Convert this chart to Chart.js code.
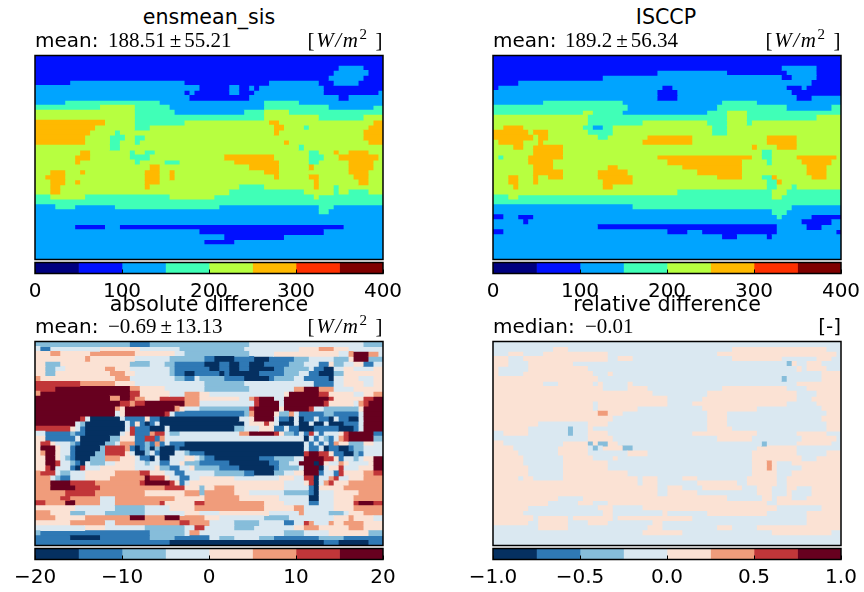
<!DOCTYPE html>
<html>
<head>
<meta charset="utf-8">
<script src="https://cdn.jsdelivr.net/npm/chart.js@4"></script>
<style>
body { margin: 0; background: #fff; }
#page { position: relative; width: 864px; height: 592px; overflow: hidden; }
canvas { position: absolute; }
.t { position: absolute; font: 20px/24px "DejaVu Sans", sans-serif; color: #000; white-space: nowrap; }
.c { transform: translateX(-50%); font-size: 20.6px; }
.m { font-family: "Liberation Serif", serif; font-size: 21px; }
.m i { font-style: italic; }
.m sup { font-size: 15px; line-height: 0; }
.u { letter-spacing: 1.6px; }
.pm { margin: 0 3px 0 4px; }
</style>
</head>
<body>
<div id="page">
  <canvas id="map0" width="360" height="212" style="left:30px;top:51px"></canvas>
  <canvas id="bar0" width="432" height="42" style="left:0;top:260px"></canvas>
  <canvas id="map1" width="360" height="212" style="left:488px;top:51px"></canvas>
  <canvas id="bar1" width="432" height="42" style="left:432px;top:260px"></canvas>
  <canvas id="map2" width="360" height="212" style="left:30px;top:337px"></canvas>
  <canvas id="bar2" width="432" height="42" style="left:0;top:546px"></canvas>
  <canvas id="map3" width="360" height="212" style="left:488px;top:337px"></canvas>
  <canvas id="bar3" width="432" height="42" style="left:432px;top:546px"></canvas>

  <span class="t c" style="left:209px;top:5px">ensmean_sis</span>
  <span class="t" style="left:35px;top:28px">mean:</span>
  <span class="t m" style="left:108px;top:28px">188.51<span class="pm">±</span>55.21</span>
  <span class="t m u" style="right:480px;top:28px">[<i>W/m</i><sup>2</sup> ]</span>

  <span class="t c" style="left:666px;top:5px">ISCCP</span>
  <span class="t" style="left:493px;top:28px">mean:</span>
  <span class="t m" style="left:565px;top:28px">189.2<span class="pm">±</span>56.34</span>
  <span class="t m u" style="right:22px;top:28px">[<i>W/m</i><sup>2</sup> ]</span>

  <span class="t c" style="left:209px;top:292px">absolute difference</span>
  <span class="t" style="left:35px;top:314px">mean:</span>
  <span class="t m" style="left:108px;top:314px">−0.69<span class="pm">±</span>13.13</span>
  <span class="t m u" style="right:480px;top:314px">[<i>W/m</i><sup>2</sup> ]</span>

  <span class="t c" style="left:667px;top:292px">relative difference</span>
  <span class="t" style="left:493px;top:314px">median:</span>
  <span class="t m" style="left:585px;top:314px">−0.01</span>
  <span class="t" style="right:23px;top:314px">[-]</span>
</div>

<script>
// each row is a run list: band letter (a = lowest band) + number of cells
const ensmeanRows = [
  "b70","b70","b61c5b4","b60c7b3","b59c7b4","b7c23b17c10b3c5b5",
  "c33b6c2b2c1b1c13b12","c30b1c1b7c2b3c14b11c1","c31b12c18b2c7","c6d19c21d7c17",
  "d13e7d7c19d13c9d2","e20d8c14d4e5d19","e20d26e11d9e4","f14e6d10e17f2e19f2",
  "f12e8d3e25f2e4d1e12f3","f11e5d1e31f1e17f4","f10e5d3e2d2e44f4","f10e5d2e3d1e29f1e16f3",
  "e15d2e36d1e16","e9f2e8d1e2d2e31d2e3f1e2f4e3","e8f3e8d4e15f10e7d3e3f8e1",
  "e8f1e11d1e5d3e11f9e6d2e6f5e2","e23f2e18f6e6f1e7f5e2",
  "e3f3e3f1e12f3e2f1e18f3e14f4e3","e2f4e16f3e2f1e20f1e6f2e7f3e3",
  "e3f3e2f1e13f3e31f1e8f2e3","e3f2e17f1e18d5e10f1e3d1e9","e3f2e34d15e6d1e2d4e3",
  "d3e7d17e9d20e1d13","d70","c4d4c8d21c20d3c10","c57d2c11","c70","c70",
  "c8b6c3b45c8","c33b25c12","c38b12c20","c34b6c30","c70","c70","c70"
];
const isccpRows = [
  "b70","b70","b58c7b5","b33c14b12c6b5","b22c36b2c5b5","b5c59b6","b1c33b2c23b3c1b7",
  "c33b4c23b10","c33b4c24b3c6","c10d16c20d7c17","d27c18d14c9d2","d18e2d6c17d4e4d19",
  "e19d28e4d14e5","e19d11e13d4e4d1e18","e2f4e12d2c2d2e20d3e23","f7e1f3e8d5e20d3e23",
  "f8e1f2e10d2e8f9e15f6e9","e1f5e3f1e20f10e15f6e9","e4f2e2f6e38f1e4f4e9","e8f6e40d2e14",
  "e1d1e5f7e19f19e2d2e5f8e1","e7f5e23f15e5d1e6f6e2","e8f4e11f2e13f12e13f4e3",
  "e8f6e7f6e14f9e13f4e3","e3f2e3f1e2f3e7f7e17f5e4d2f1e7f3e3","e3f2e3f1e13f6e27d2f1e12",
  "e4f1e17f2e31d2e3d1e9","e37d19e3d11","d3e2d51e2d12","d70","c28d32c10","c56d3c11",
  "b2c3b3c49d1c6b6","c6b1c55b6c2","c21b36c6b3c4","b2c33b4c3b15c12b1","c46b3c6b1c14",
  "c70","c70","c70","c70"
];
const absDiffRows = [
  "c19b4c20d23c4","d1b2d10e8d8c13d11e4f3e3d7","e3f2e6f9e8d2c13d5e13d2f1h3f2d1",
  "e10f1e9d7c7b2a4b4a3b5c3d5c3e1h3c3",
  "e2c3e14c4d3c2b6a3b2a2b2a3b5c3d3b2e1c2d2e2b2d2",
  "e2c2d2e8f2e3d8c1b7a2b2a2b2a5b2c5d1b2a2d2e2d4e2",
  "e2c2e11f3e2d7c1b2a2b5a1b1a6b5c3d2b2a3c2e8",
  "f1e15f3d9c2b2d1c5b4a5b1c4d2b5a1d2e3d3e2",
  "g9f7e4d14c8d14b4d2e4d2e2","g4h15f2e5d8c9d9f2h3f3d4e6",
  "f1h18g2e6d3f3e2d15e1h6g2e5d2e2f2","h15f2h2g1f2e3g2g3f3e8d2f1g1h3d2h9g1e6g2h2",
  "h17g2f1g2h8f3d11g1h4d1h8g1e5d1f1g1h3","h16f1e1h10f1e1d3c10g1h5e1h5g1d2c7e1h4",
  "h16d1e1h8g1d1b14c1f1h4e1c2f1d1b5c2b5d1h4",
  "h9g1d1a6d1b4e1b2a16d2e1h4d1b2a1d1a1b2d1b2a1d1b2a2d1h4",
  "h8d1c1a8d1b1e1b1a1b1d1a17d1e3g1e1d1a3d1a2d1a2d1a3b3d1h4",
  "g7e1d1b1a8d1g1b3a3d1a13c2d3e3b2d1b2a3b5a3b1d1h4",
  "d2b5c1b2a7d1e1g1b3f1g2d1c2d12f2h5g1e1c2b1d1b1g1d1b1d1d2e1g1h5b2",
  "e2b6d1a6c2e3b2g2b1f1d1d27a1d1b1d1c1b1d1f1g1h5c2",
  "e1g2e1d3c1b1a5c2d1f3b2c1b1f1b1d1b3a24d1b1d1b1d1b1f1e2c3e2d2",
  "e1h3e1d2b1a5c1g4f1b1a1b1c1a1c1a3b1a25d1b2d1a1b2a2b1c2d4",
  "e1f1h2e1d2b1a4c2g4e1d1a2c1d1b1a3d2c1b3a20g1h2g2e1b2a2c1b1d4",
  "e2h2e1d1c1b1a3c3f3e3d1b2a1d1a2d3e2d1c1b2a9b3c4d2h4g2e1b1d2c1d1e2h2",
  "e2h2g1d2c1b1a1d1c3d2e4d2c1d2b2d2e1c3b2b4a8b2c2d2h3a1h1e1d2f1e1d1d3e1h2",
  "e2g1h1d3b1a1g1d3e7d4e1c2b2d2e1c5b4a7b1c4d1h3a1d1e2g1d3e3h2",
  "f1g3d1c2d3e6f5g2e3d2b2d6c6b2a4c2d2e2h3b1d2b1g1e4f2g2",
  "f3d1c1b2d3e5f7h1g3e1d2b2d2e7d9e3d2g2a1d1d1f1g1d2e3f4",
  "f3h4g5f9g1h5g1e1b1d1e19d4e1g1a1d1f1g1e3f7",
  "f3h5g5f13g4e1e2c1e2f4e10d5b1a1e5f8","f6g6f10e8f3c1f6e3d7c5b1a1d3e5f5",
  "f5g2f6d3f12e6f7e8d6a2d3e4f6","g2f4h2f5d3f9g1e6g2f12e4d5b2d3e4g1h3g2",
  "e8d8c6d5e5f14e6f2d6e4f6","f3e4c3d4c8d8e3d4e10d6f1d5c3d1e3f4",
  "f4e6f9h3f4h3f5e3d9c5d9e3f1e4d2e3f3","e7f7d2f13g2f4d5c5d5b2d2g1f1d3f1e2f4e4",
  "d10e4d8c8d2g2d6c4d8e2f3e6f3e4","c1b22c7d1f2d17c4d5e8c3",
  "b7a6b10c5b7d2c3d5c3b9c5b8","b27a31b3a6b3"
];
const relDiffRows = [
  "d70","d12e3d33e19d3","d3e3d4e13d22e24d1","e3d3e17d2e3d20e10d7e3d2",
  "e3d4e9d43c1e1d2e3d4","e1d6e12d42e1d1e4d3","e1d5e14d3e1d42e4","e21d37c1d7e4",
  "e10d3e7d1e1d5e1d33e9","e22d5e4d15e13d4e7","e32d11e18d4e5","e35d7e19d3e6",
  "e20d1e14d5e19d6e5","e20d1e8d13e11d13e4","e21f2e3d17e4d20e3","e24d19e4d19e4",
  "e9d10e4d20e4d20e3","e7d8c1d3e1d23e5d19e3","d2e5d8c1d3e4d17e13d8e6d3",
  "d19e5d21e7d10e7d1","e2d12e5c1e1c2e2d29c1d6e7d2","e4d9e6d1c1d1e4c2d25e8d9",
  "e5d8e6d8e4d21e9d6e3","e6d8e6d4e1d27e10d3e5","e6d8e9d29e3f1e1d3e10",
  "e7d7e9d29e3f1e1d5e8","e7d7e13d25e5d3e10","e5d1e2d6e15d1e3d5e3d10e6d2e11",
  "e29d1e3d8e8d2e6d2e11","e33d2e3d4e8d3e3d3e2d3e6","e33d2e6d12e3d3e1d4e6",
  "e13d5e29d7e2d1e3d3e7","e11d6e3d3e32d2e13","e7d14e3d6e27d9e4",
  "e6d16e2d10e1d8e12d8e7","e8d1e6d1e8d1e15d23e7","e7d2e6d4e4d9e2d29e7",
  "d9e6d16e3d11e3d5e17","d30e8d18e12d2","d70","d70"
];

const jetColors = ["#00007f","#0010ff","#00a4ff","#40ffb7","#b7ff40","#ffb900","#ff3000","#7f0000"];
const rdbuColors = ["#053061","#2f79b5","#86bdda","#dae8f1","#fbe2d4","#f09c7b","#c13639","#67001f"];

const jetEdges = [0,50,100,150,200,250,300,350,400];
const absEdges = [-20,-15,-10,-5,0,5,10,15,20];
const relEdges = [-1,-0.75,-0.5,-0.25,0,0.25,0.5,0.75,1];

const jetTicks = ["0","100","200","300","400"];
const absTicks = ["−20","−10","0","10","20"];
const relTicks = ["−1.0","−0.5","0.0","0.5","1.0"];

const cols = 70;

// black frame round the plot, used by both kinds of chart
const framePlugin = {
  id: "frame",
  afterDraw(chart) {
    const a = chart.chartArea, ctx = chart.ctx;
    ctx.save();
    ctx.strokeStyle = "#000";
    ctx.lineWidth = 1.5;
    ctx.strokeRect(a.left, a.top, a.right - a.left, a.bottom - a.top);
    if (chart.options.plugins.frame.innerTicks) {
      const x = chart.scales.x;
      ctx.lineWidth = 1;
      x.ticks.forEach(t => {
        const px = Math.round(x.getPixelForValue(t.value)) + 0.5;
        ctx.beginPath();
        ctx.moveTo(px, a.bottom);
        ctx.lineTo(px, a.bottom - 4);
        ctx.stroke();
      });
    }
    ctx.restore();
  }
};

function drawMap(id, rows, colors) {
  const parsed = rows.map(r => r.match(/[a-h]\d+/g).map(s => ({
    band: s.charCodeAt(0) - 97,
    n: parseInt(s.slice(1))
  })));
  const most = Math.max(...parsed.map(r => r.length));
  const datasets = [];
  for (let k = 0; k < most; k++) {
    datasets.push({
      data: parsed.map(r => r[k] ? r[k].n : null),
      backgroundColor: parsed.map(r => r[k] ? colors[r[k].band] : "#fff"),
      borderWidth: 0,
      inflateAmount: 0.4,
      barPercentage: 1,
      categoryPercentage: 1
    });
  }
  new Chart(document.getElementById(id), {
    type: "bar",
    data: { labels: rows.map((r, i) => i), datasets: datasets },
    options: {
      indexAxis: "y",
      responsive: false,
      animation: false,
      layout: { padding: { left: 5, right: 7, top: 4.5, bottom: 3.5 } },
      plugins: { legend: { display: false }, tooltip: { enabled: false }, frame: {} },
      scales: {
        x: { display: false, stacked: true, min: 0, max: cols },
        y: { display: false, stacked: true }
      }
    },
    plugins: [framePlugin]
  });
}

function drawBar(id, edges, colors, tickLabels, left) {
  const datasets = colors.map((c, i) => ({
    data: [[edges[i], edges[i + 1]]],
    backgroundColor: c,
    borderWidth: 0,
    barPercentage: 1,
    categoryPercentage: 1
  }));
  new Chart(document.getElementById(id), {
    type: "bar",
    data: { labels: [""], datasets: datasets },
    options: {
      indexAxis: "y",
      responsive: false,
      animation: false,
      layout: { padding: { left: left, right: 432 - left - 348, top: 2.5, bottom: 0 } },
      plugins: { legend: { display: false }, tooltip: { enabled: false }, frame: { innerTicks: true } },
      datasets: { bar: { grouped: false } },
      scales: {
        x: {
          min: edges[0],
          max: edges[8],
          border: { display: false },
          grid: { display: false, drawTicks: false },
          ticks: {
            stepSize: edges[2] - edges[0] ,
            autoSkip: false,
            maxRotation: 0,
            padding: 6,
            color: "#000",
            font: { family: "DejaVu Sans", size: 20 },
            callback: (v, i) => tickLabels[i]
          },
          afterFit(scale) {
            scale.paddingLeft = 0;
            scale.paddingRight = 0;
            scale.height = 28.5;
          }
        },
        y: { display: false }
      }
    },
    plugins: [framePlugin]
  });
}

drawMap("map0", ensmeanRows, jetColors);
drawMap("map1", isccpRows, jetColors);
drawMap("map2", absDiffRows, rdbuColors);
drawMap("map3", relDiffRows, rdbuColors);

drawBar("bar0", jetEdges, jetColors, jetTicks, 35);
drawBar("bar1", jetEdges, jetColors, jetTicks, 61);
drawBar("bar2", absEdges, rdbuColors, absTicks, 35);
drawBar("bar3", relEdges, rdbuColors, relTicks, 61);
</script>
</body>
</html>
